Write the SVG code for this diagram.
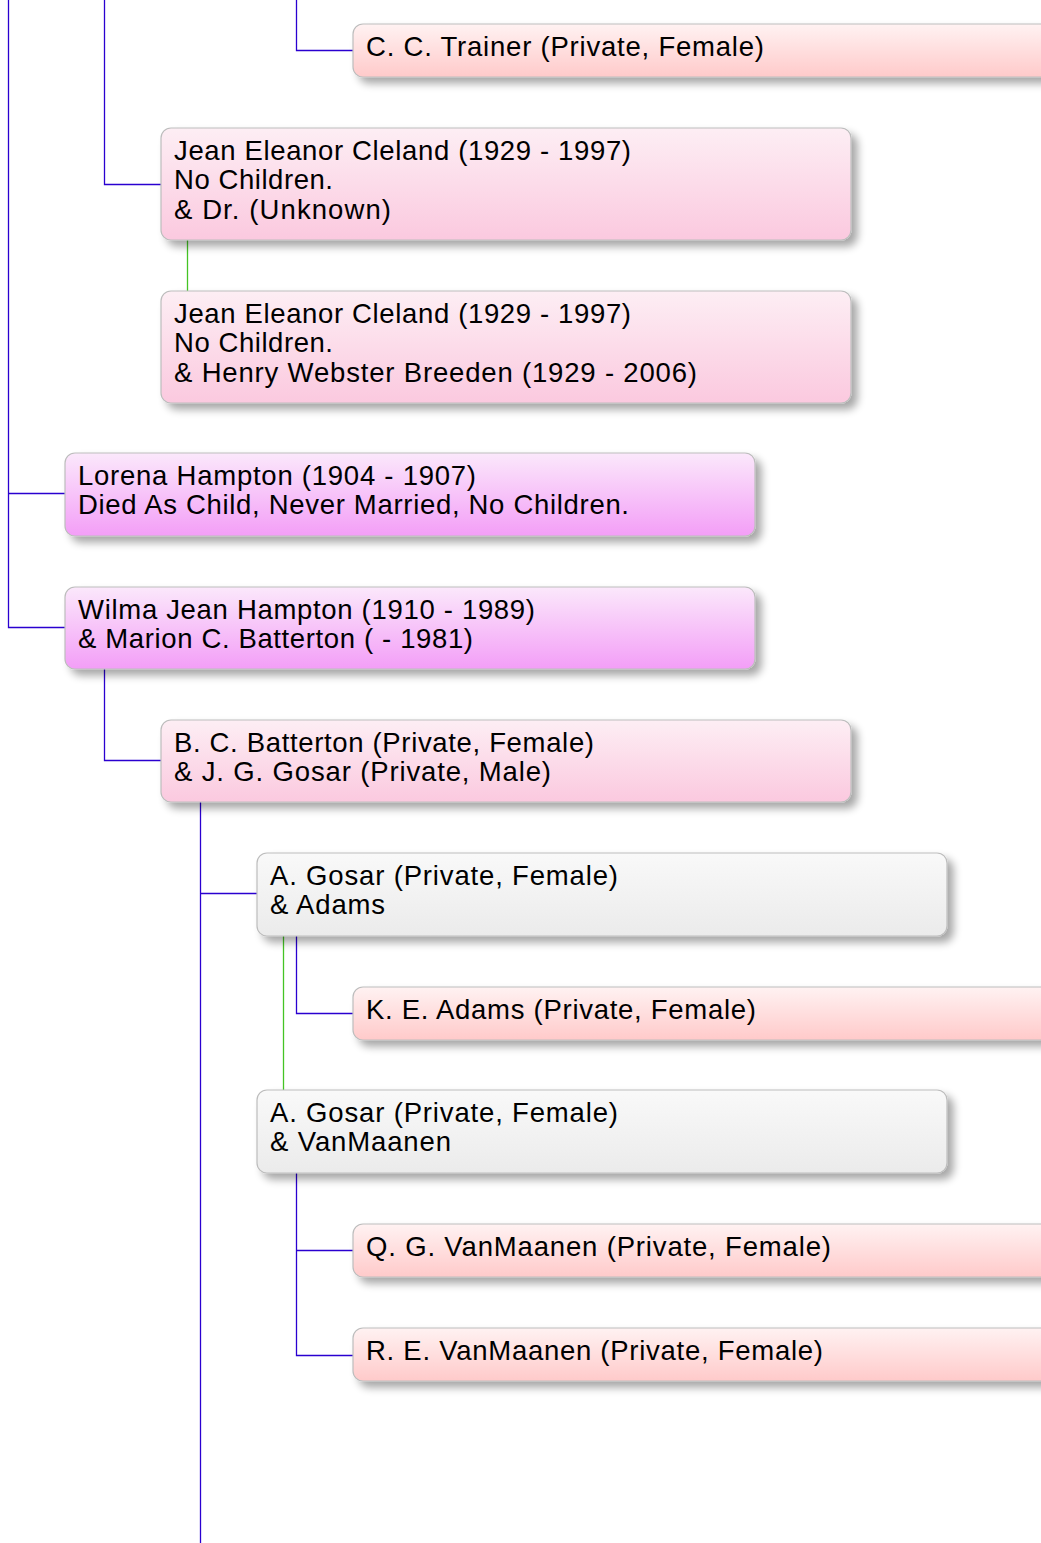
<svg xmlns="http://www.w3.org/2000/svg" width="1041" height="1543" viewBox="0 0 1041 1543">
<style>
.box{stroke:#bdbdbd;stroke-width:1.2;filter:url(#sh)}
.t{font-family:"Liberation Sans",Arial,Helvetica,sans-serif;font-size:27.5px;fill:#000}
.c{fill:none;stroke:#2a00d0;stroke-width:1.3}
.g{fill:none;stroke:#44c424;stroke-width:1.3}
</style>
<defs>
<filter id="sh" x="-5%" y="-20%" width="115%" height="160%">
<feGaussianBlur in="SourceAlpha" stdDeviation="4"/>
<feOffset dx="6" dy="6" result="b"/>
<feComponentTransfer><feFuncA type="linear" slope="0.35"/></feComponentTransfer>
<feMerge><feMergeNode/><feMergeNode in="SourceGraphic"/></feMerge>
</filter>
<linearGradient id="pf" x1="0" y1="0" x2="0" y2="1"><stop offset="0" stop-color="#fff2f2"/><stop offset="1" stop-color="#ffcaca"/></linearGradient>
<linearGradient id="pk" x1="0" y1="0" x2="0" y2="1"><stop offset="0" stop-color="#fdeef4"/><stop offset="1" stop-color="#fbc9df"/></linearGradient>
<linearGradient id="mg" x1="0" y1="0" x2="0" y2="1"><stop offset="0" stop-color="#fbe8fb"/><stop offset="1" stop-color="#f39ef7"/></linearGradient>
<linearGradient id="gr" x1="0" y1="0" x2="0" y2="1"><stop offset="0" stop-color="#f9f9f9"/><stop offset="1" stop-color="#ebebeb"/></linearGradient>
</defs>
<g id="connectors">
<path class="c" d="M8.5 0V627.5H65M8.5 493.5H65"/>
<path class="c" d="M104.5 0V184.5H161"/>
<path class="c" d="M296.5 0V50.5H353"/>
<path class="g" d="M187.5 240V291"/>
<path class="c" d="M104.5 669V760.5H161"/>
<path class="c" d="M200.5 802V1543M200.5 893.5H257"/>
<path class="g" d="M283.5 936V1090"/>
<path class="c" d="M296.5 936V1013.5H353"/>
<path class="c" d="M296.5 1173V1355.5H353M296.5 1250.5H353"/>
</g>
<g id="n1"><rect class="box" x="353" y="24" width="700" height="53" rx="10" fill="url(#pf)"/><text class="t" x="366" y="56" textLength="398" lengthAdjust="spacing">C. C. Trainer (Private, Female)</text></g>
<g id="n2"><rect class="box" x="161" y="128" width="690" height="112" rx="10" fill="url(#pk)"/><text class="t" x="174" y="160" textLength="457" lengthAdjust="spacing">Jean Eleanor Cleland (1929 - 1997)</text><text class="t" x="174" y="189" textLength="159" lengthAdjust="spacing">No Children.</text><text class="t" x="174" y="219" textLength="217" lengthAdjust="spacing">&amp; Dr. (Unknown)</text></g>
<g id="n3"><rect class="box" x="161" y="291" width="690" height="112" rx="10" fill="url(#pk)"/><text class="t" x="174" y="323" textLength="457" lengthAdjust="spacing">Jean Eleanor Cleland (1929 - 1997)</text><text class="t" x="174" y="352" textLength="159" lengthAdjust="spacing">No Children.</text><text class="t" x="174" y="382" textLength="523" lengthAdjust="spacing">&amp; Henry Webster Breeden (1929 - 2006)</text></g>
<g id="n4"><rect class="box" x="65" y="453" width="690" height="83" rx="10" fill="url(#mg)"/><text class="t" x="78" y="485" textLength="398" lengthAdjust="spacing">Lorena Hampton (1904 - 1907)</text><text class="t" x="78" y="514" textLength="551" lengthAdjust="spacing">Died As Child, Never Married, No Children.</text></g>
<g id="n5"><rect class="box" x="65" y="587" width="690" height="82" rx="10" fill="url(#mg)"/><text class="t" x="78" y="619" textLength="457" lengthAdjust="spacing">Wilma Jean Hampton (1910 - 1989)</text><text class="t" x="78" y="648" textLength="395" lengthAdjust="spacing">&amp; Marion C. Batterton ( - 1981)</text></g>
<g id="n6"><rect class="box" x="161" y="720" width="690" height="82" rx="10" fill="url(#pk)"/><text class="t" x="174" y="752" textLength="420" lengthAdjust="spacing">B. C. Batterton (Private, Female)</text><text class="t" x="174" y="781" textLength="377" lengthAdjust="spacing">&amp; J. G. Gosar (Private, Male)</text></g>
<g id="n7"><rect class="box" x="257" y="853" width="690" height="83" rx="10" fill="url(#gr)"/><text class="t" x="270" y="885" textLength="348" lengthAdjust="spacing">A. Gosar (Private, Female)</text><text class="t" x="270" y="914" textLength="115" lengthAdjust="spacing">&amp; Adams</text></g>
<g id="n8"><rect class="box" x="353" y="987" width="700" height="53" rx="10" fill="url(#pf)"/><text class="t" x="366" y="1019" textLength="390" lengthAdjust="spacing">K. E. Adams (Private, Female)</text></g>
<g id="n9"><rect class="box" x="257" y="1090" width="690" height="83" rx="10" fill="url(#gr)"/><text class="t" x="270" y="1122" textLength="348" lengthAdjust="spacing">A. Gosar (Private, Female)</text><text class="t" x="270" y="1151" textLength="181" lengthAdjust="spacing">&amp; VanMaanen</text></g>
<g id="n10"><rect class="box" x="353" y="1224" width="700" height="53" rx="10" fill="url(#pf)"/><text class="t" x="366" y="1256" textLength="465" lengthAdjust="spacing">Q. G. VanMaanen (Private, Female)</text></g>
<g id="n11"><rect class="box" x="353" y="1328" width="700" height="53" rx="10" fill="url(#pf)"/><text class="t" x="366" y="1360" textLength="457" lengthAdjust="spacing">R. E. VanMaanen (Private, Female)</text></g>
</svg>
